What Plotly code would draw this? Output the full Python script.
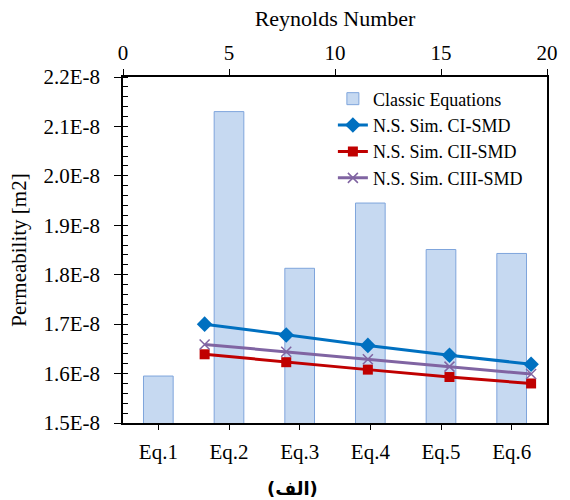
import plotly.graph_objects as go

categories = ["Eq.1", "Eq.2", "Eq.3", "Eq.4", "Eq.5", "Eq.6"]
classic = [1.595e-8, 2.130e-8, 1.813e-8, 1.945e-8, 1.851e-8, 1.843e-8]

reynolds = [3.85, 7.7, 11.55, 15.4, 19.25]
ci_smd = [1.700e-8, 1.678e-8, 1.657e-8, 1.637e-8, 1.619e-8]
cii_smd = [1.639e-8, 1.623e-8, 1.608e-8, 1.593e-8, 1.580e-8]
ciii_smd = [1.659e-8, 1.644e-8, 1.629e-8, 1.614e-8, 1.599e-8]

ytick_vals = [1.5e-8, 1.6e-8, 1.7e-8, 1.8e-8, 1.9e-8, 2.0e-8, 2.1e-8, 2.2e-8]
ytick_text = ["1.5E-8", "1.6E-8", "1.7E-8", "1.8E-8", "1.9E-8", "2.0E-8", "2.1E-8", "2.2E-8"]

serif = "Liberation Serif, Times New Roman, serif"

fig = go.Figure()
fig.add_trace(go.Bar(
    x=categories, y=classic, name="Classic Equations",
    marker=dict(color="#c6d9f1", line=dict(color="#7fa5dc", width=1)),
    width=0.42, xaxis="x", yaxis="y",
))
fig.add_trace(go.Scatter(
    x=reynolds, y=ci_smd, name="N.S. Sim. CI-SMD", mode="lines+markers",
    line=dict(color="#0070c0", width=3), marker=dict(symbol="diamond", size=12, color="#0070c0"),
    xaxis="x2", yaxis="y",
))
fig.add_trace(go.Scatter(
    x=reynolds, y=cii_smd, name="N.S. Sim. CII-SMD", mode="lines+markers",
    line=dict(color="#c00000", width=3), marker=dict(symbol="square", size=10, color="#c00000"),
    xaxis="x2", yaxis="y",
))
fig.add_trace(go.Scatter(
    x=reynolds, y=ciii_smd, name="N.S. Sim. CIII-SMD", mode="lines+markers",
    line=dict(color="#8064a2", width=3),
    marker=dict(symbol="x-thin", size=10, color="#8064a2", line=dict(color="#8064a2", width=1.5)),
    xaxis="x2", yaxis="y",
))

fig.update_layout(
    width=570, height=500,
    margin=dict(l=123, r=17, t=77, b=77),
    paper_bgcolor="white", plot_bgcolor="white",
    font=dict(family=serif, size=21, color="black"),
    showlegend=True,
    legend=dict(x=0.495, y=0.99, xanchor="left", yanchor="top",
                font=dict(family=serif, size=18), bgcolor="rgba(0,0,0,0)",
                tracegroupgap=0, itemwidth=30),
    xaxis=dict(type="category", showline=True, linecolor="black", linewidth=1.5,
               ticks="outside", ticklen=5, tickcolor="black", mirror=False,
               ticklabelstandoff=4,
               tickfont=dict(family=serif, size=21), range=[-0.5, 5.5]),
    xaxis2=dict(overlaying="x", side="top", range=[0, 20], dtick=5,
                showline=True, linecolor="black", linewidth=1.5,
                ticks="outside", ticklen=6, tickcolor="black", showgrid=False,
                ticklabelstandoff=1,
                tickfont=dict(family=serif, size=21),
                title=dict(text="Reynolds Number", font=dict(family=serif, size=22), standoff=8)),
    yaxis=dict(range=[1.5e-8, 2.2e-8], tickvals=ytick_vals, ticktext=ytick_text,
               showline=True, linecolor="black", linewidth=1.5, mirror=True,
               ticks="outside", ticklen=7, tickcolor="black", showgrid=False,
               ticklabelstandoff=10,
               tickfont=dict(family=serif, size=21),
               minor=dict(dtick=0.02e-8, ticks="inside", ticklen=5, tickcolor="black", showgrid=False),
               title=dict(text="Permeability [m2]", font=dict(family=serif, size=21), standoff=11)),
    annotations=[dict(text="<b>(الف)</b>", x=0.40, y=-0.188, xref="paper", yref="paper",
                      xanchor="center", yanchor="middle",
                      showarrow=False, font=dict(family="DejaVu Sans", size=18, color="black"))],
)

fig.write_html("out.html", config={"displayModeBar": False},
               post_script="document.body.style.margin='0px';")
